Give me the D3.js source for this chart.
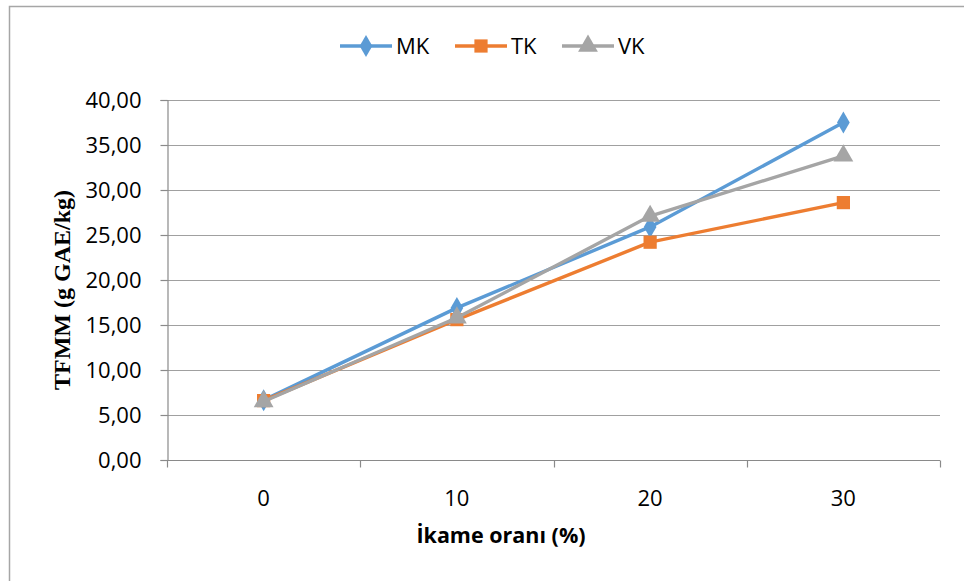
<!DOCTYPE html>
<html>
<head>
<meta charset="utf-8">
<script src="https://cdn.jsdelivr.net/npm/d3@7"></script>
<style>
  body { margin: 0; background: #fff; }
  svg { display: block; }
</style>
</head>
<body>
<div id="chart"></div>
<script>
// data
const categories = ["0", "10", "20", "30"];
const mkValues = [6.65, 16.9, 25.9, 37.5];
const tkValues = [6.6, 15.6, 24.2, 28.6];
const vkValues = [6.5, 15.8, 27.1, 33.8];
const yTicks = [0, 5, 10, 15, 20, 25, 30, 35, 40];

const seriesNames = ["MK", "TK", "VK"];
const seriesColors = ["#5B9BD5", "#ED7D31", "#A5A5A5"];
const seriesShapes = [d3.symbolDiamond, d3.symbolSquare, d3.symbolTriangle];

const width = 964, height = 581;
const margin = { top: 100, left: 167, right: 24, bottom: 121 };
const fontSans = "'Open Sans', sans-serif";

const svg = d3.select("#chart").append("svg")
  .attr("width", width)
  .attr("height", height);

// outer chart border (runs off right/bottom)
svg.append("rect")
  .attr("x", 9.5).attr("y", 6.5)
  .attr("width", 1000).attr("height", 1000)
  .attr("fill", "none")
  .attr("stroke", "#a6a6a6")
  .attr("stroke-width", 1.5);

const x = d3.scaleBand()
  .domain(categories)
  .range([margin.left, width - margin.right]);

const y = d3.scaleLinear()
  .domain([0, 40])
  .range([height - margin.bottom, margin.top]);

// gridlines
svg.append("g")
  .selectAll("line")
  .data(yTicks.slice(1))
  .join("line")
  .attr("x1", margin.left).attr("x2", width - margin.right)
  .attr("y1", d => Math.round(y(d)) + 0.5).attr("y2", d => Math.round(y(d)) + 0.5)
  .attr("stroke", "#a0a0a0")
  .attr("stroke-width", 1.2);

// y axis
const yAxis = svg.append("g")
  .attr("transform", `translate(${margin.left + 0.5},0)`)
  .call(d3.axisLeft(y).tickValues(yTicks).tickSize(7).tickPadding(19)
    .tickFormat(d => d3.format(".2f")(d).replace(".", ",")));
yAxis.select(".domain").attr("stroke", "#8a8a8a").attr("stroke-width", 1.2);
yAxis.selectAll(".tick line").attr("stroke", "#8a8a8a").attr("stroke-width", 1.2);
yAxis.selectAll("text")
  .attr("font-family", fontSans)
  .attr("font-size", 22)
  .attr("fill", "#000");

// x axis with tick marks at band boundaries
const xAxisG = svg.append("g")
  .attr("transform", `translate(0,${y(0) + 0.5})`);
xAxisG.append("line")
  .attr("x1", margin.left).attr("x2", width - margin.right)
  .attr("stroke", "#8a8a8a").attr("stroke-width", 1.2);
const bounds = categories.map(c => x(c)).concat([x(categories[categories.length - 1]) + x.bandwidth()]);
xAxisG.selectAll(".bt")
  .data(bounds)
  .join("line")
  .attr("class", "bt")
  .attr("x1", d => Math.round(d) + 0.5).attr("x2", d => Math.round(d) + 0.5)
  .attr("y1", 0).attr("y2", 7)
  .attr("stroke", "#8a8a8a").attr("stroke-width", 1.2);
xAxisG.selectAll(".lab")
  .data(categories)
  .join("text")
  .attr("class", "lab")
  .attr("x", d => x(d) + x.bandwidth() / 2)
  .attr("y", 45)
  .attr("text-anchor", "middle")
  .attr("font-family", fontSans)
  .attr("font-size", 22)
  .text(d => d);

// axis titles
svg.append("text")
  .attr("x", 501)
  .attr("y", 543)
  .attr("text-anchor", "middle")
  .attr("font-family", fontSans)
  .attr("font-weight", "bold")
  .attr("font-size", 21.5)
  .text("İkame oranı (%)");

svg.append("text")
  .attr("transform", `translate(70,${(margin.top + y(0)) / 2 + 10}) rotate(-90)`)
  .attr("text-anchor", "middle")
  .attr("font-family", "'Liberation Serif', 'Times New Roman', serif")
  .attr("font-weight", "bold")
  .attr("font-size", 24)
  .text("TFMM (g GAE/kg)");

// series
const allSeries = [mkValues, tkValues, vkValues];
const line = d3.line()
  .x((d, i) => x(categories[i]) + x.bandwidth() / 2)
  .y(d => y(d));

const symSizes = [140, 175, 170];

allSeries.forEach((vals, si) => {
  const g = svg.append("g");
  g.append("path")
    .datum(vals)
    .attr("d", line)
    .attr("fill", "none")
    .attr("stroke", seriesColors[si])
    .attr("stroke-width", 3.4)
    .attr("stroke-linejoin", "round");
  g.selectAll("path.m")
    .data(vals)
    .join("path")
    .attr("class", "m")
    .attr("transform", (d, i) => `translate(${x(categories[i]) + x.bandwidth() / 2},${y(d)})`)
    .attr("d", d3.symbol().type(seriesShapes[si]).size(symSizes[si]))
    .attr("fill", seriesColors[si]);
});

// legend
const legendX = [340, 455, 562];
const legend = svg.append("g");
seriesNames.forEach((name, i) => {
  const lg = legend.append("g").attr("transform", `translate(${legendX[i]},46)`);
  lg.append("line")
    .attr("x1", 0).attr("x2", 52)
    .attr("stroke", seriesColors[i]).attr("stroke-width", 3.4);
  lg.append("path")
    .attr("transform", "translate(26,0)")
    .attr("d", d3.symbol().type(seriesShapes[i]).size(symSizes[i]))
    .attr("fill", seriesColors[i]);
  lg.append("text")
    .attr("x", 56).attr("y", 8)
    .attr("font-family", fontSans)
    .attr("font-size", 22)
    .text(name);
});
</script>
</body>
</html>
